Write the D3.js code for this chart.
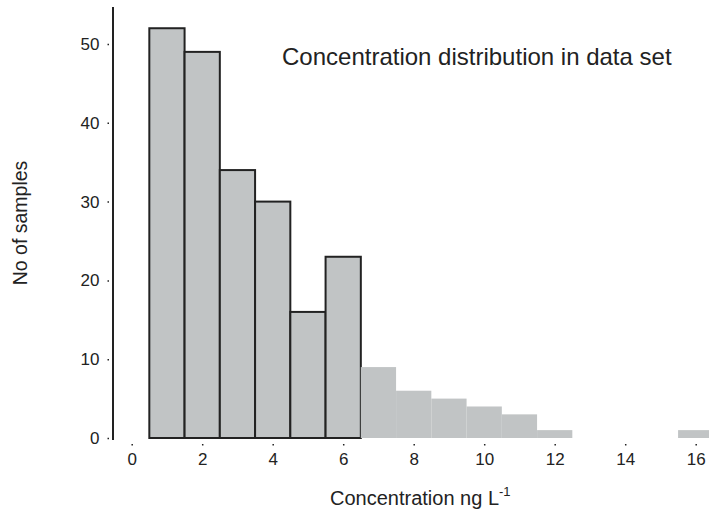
<!DOCTYPE html>
<html>
<head>
<meta charset="utf-8">
<script src="https://cdn.jsdelivr.net/npm/d3@7"></script>
<style>
  body { margin: 0; background: #fff; }
  svg { display: block; font-family: "Liberation Sans", Arial, sans-serif; }
  .axis path.domain { display: none; }
  .axis .tick line { stroke: #222; stroke-width: 1.5; }
  .axis .tick text { fill: #222; font-size: 17px; }
</style>
</head>
<body>
<svg width="709" height="512"></svg>
<script>
// histogram bins (bin centres) and counts
var binCentres = [1, 2, 3, 4, 5, 6, 7, 8, 9, 10, 11, 12, 13, 14, 15, 16];
var counts = [52, 49, 34, 30, 16, 23, 9, 6, 5, 4, 3, 1, 0, 0, 0, 1];
var outlined = [true, true, true, true, true, true, false, false, false, false, false, false, false, false, false, false];
var xTicks = [0, 2, 4, 6, 8, 10, 12, 14, 16];
var yTicks = [0, 10, 20, 30, 40, 50];

var svg = d3.select("svg");

var x = d3.scaleLinear().domain([0, 16]).range([131.7, 695.7]);
var y = d3.scaleLinear().domain([0, 50]).range([438, 44]);

// bars
svg.append("g")
    .attr("class", "bars")
    .selectAll("rect")
    .data(binCentres)
    .enter().append("rect")
    .attr("x", function (d) { return x(d - 0.5); })
    .attr("width", function (d) { return x(d + 0.5) - x(d - 0.5); })
    .attr("y", function (d, i) { return y(counts[i]); })
    .attr("height", function (d, i) { return y(0) - y(counts[i]); })
    .style("fill", "#c1c4c5")
    .style("stroke", function (d, i) { return outlined[i] ? "#222" : "none"; })
    .style("stroke-width", 2);

// y axis line
svg.append("line")
    .attr("x1", 113).attr("x2", 113)
    .attr("y1", 7).attr("y2", 440)
    .style("stroke", "#222")
    .style("stroke-width", 2);

// y ticks (small dots)
svg.append("g")
    .attr("class", "y axis")
    .attr("transform", "translate(109,0)")
    .call(d3.axisLeft(y).tickValues(yTicks).tickSize(1.5).tickPadding(8));

// x ticks
svg.append("g")
    .attr("class", "x axis")
    .attr("transform", "translate(0,444)")
    .call(d3.axisBottom(x).tickValues(xTicks).tickSize(1.5).tickPadding(7));

// title
svg.append("text")
    .attr("x", 282)
    .attr("y", 65)
    .style("font-size", "24px")
    .style("fill", "#222")
    .text("Concentration distribution in data set");

// x label
var xl = svg.append("text")
    .attr("x", 330)
    .attr("y", 505)
    .style("font-size", "20px")
    .style("fill", "#222");
xl.append("tspan").text("Concentration ng L");
xl.append("tspan")
    .attr("dy", -9)
    .style("font-size", "13px")
    .text("-1");

// y label
svg.append("text")
    .attr("transform", "translate(27,223) rotate(-90)")
    .attr("text-anchor", "middle")
    .style("font-size", "19.5px")
    .style("fill", "#222")
    .text("No of samples");
</script>
</body>
</html>
